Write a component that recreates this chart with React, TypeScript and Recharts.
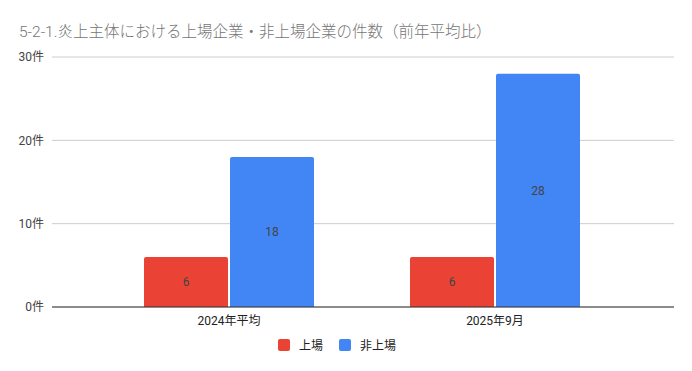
import { BarChart, Bar, XAxis, YAxis, CartesianGrid, Legend, LabelList } from 'recharts';

// categories and series
const CATEGORIES = ['2024年平均', '2025年9月'];
const LISTED = [6, 6];
const UNLISTED = [18, 28];
const Y_TICKS = [0, 10, 20, 30];

const TITLE = '5-2-1.炎上主体における上場企業・非上場企業の件数（前年平均比）';
const FONT = 'Roboto, "Noto Sans CJK JP", sans-serif';

const RED = '#ea4335';
const BLUE = '#4285f4';

const data = CATEGORIES.map((c, i) => ({
  name: c,
  listed: LISTED[i],
  unlisted: UNLISTED[i],
}));

function LegendContent() {
  const items = [
    { label: '上場', color: RED },
    { label: '非上場', color: BLUE },
  ];
  return (
    <div style={{ display: 'flex', justifyContent: 'center', gap: 16, fontFamily: FONT, fontSize: 12, color: '#222' }}>
      {items.map((it) => (
        <div key={it.label} style={{ display: 'flex', alignItems: 'center' }}>
          <span style={{ width: 12, height: 12, borderRadius: 2, background: it.color, marginRight: 9, display: 'inline-block' }} />
          {it.label}
        </div>
      ))}
    </div>
  );
}

export default function App() {
  return (
    <div style={{ position: 'absolute', left: 0, top: 0, width: 692, height: 371, background: '#fff' }}>
      <div
        style={{
          position: 'absolute',
          left: 19,
          top: 19,
          fontFamily: FONT,
          fontSize: 15.5,
          fontWeight: 300,
          color: '#757575',
          whiteSpace: 'nowrap',
        }}
      >
        {TITLE}
      </div>
      <BarChart
        width={692}
        height={371}
        data={data}
        margin={{ top: 57, right: 18, left: 0, bottom: 9 }}
        barCategoryGap={48}
        barGap={2}
      >
        <CartesianGrid vertical={false} stroke="#cccccc" />
        <XAxis
          dataKey="name"
          padding={{ left: 44, right: 46 }}
          axisLine={{ stroke: '#333333' }}
          tickLine={false}
          tickMargin={3}
          tick={{ fill: '#222', fontSize: 12, fontFamily: FONT }}
          height={29}
        />
        <YAxis
          domain={[0, 30]}
          ticks={Y_TICKS}
          width={52}
          axisLine={false}
          tickLine={false}
          tickMargin={2}
          tickFormatter={(v) => `${v}件`}
          tick={{ fill: '#444', fontSize: 12, fontFamily: FONT }}
        />
        <Legend verticalAlign="bottom" height={26} content={<LegendContent />} />
        <Bar dataKey="listed" name="上場" fill={RED} radius={[2, 2, 0, 0]} isAnimationActive={false}>
          <LabelList dataKey="listed" position="center" fill="#444" fontSize={12} fontFamily={FONT} />
        </Bar>
        <Bar dataKey="unlisted" name="非上場" fill={BLUE} radius={[2, 2, 0, 0]} isAnimationActive={false}>
          <LabelList dataKey="unlisted" position="center" fill="#444" fontSize={12} fontFamily={FONT} />
        </Bar>
      </BarChart>
    </div>
  );
}
